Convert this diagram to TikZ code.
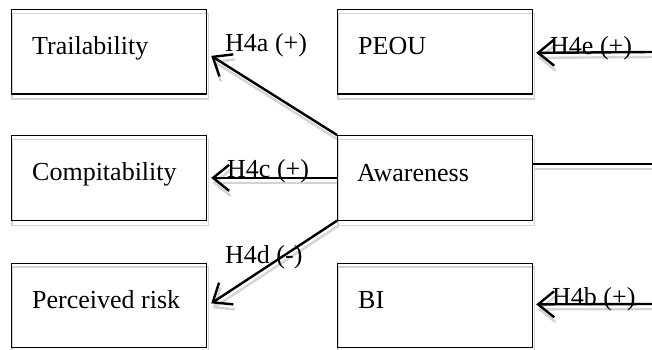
\documentclass[tikz,border=0pt]{standalone}
\usepackage{fontspec}
\setmainfont{Liberation Serif}
\usetikzlibrary{arrows.meta,calc,backgrounds}
\begin{document}
\begin{tikzpicture}[x=1pt,y=-1pt,
  box/.style={draw=black, line width=1.2pt, minimum width=195pt, minimum height=84.5pt,
              inner sep=0pt, anchor=north west},
  boxshade/.style={draw=black!17, line width=1.4pt, transform canvas={shift={(1pt,-4.5pt)}}},
  caption/.style={font=\fontsize{26}{30}\selectfont, inner sep=0pt, anchor=base west},
  hyp/.style={font=\fontsize{26}{30}\selectfont, inner sep=0pt, anchor=base west},
  link/.style={line width=2.4pt, -{Straight Barb[length=16pt,width=26pt]}},
  linkshade/.style={draw=black!17, transform canvas={shift={(1.5pt,-5pt)}}},
  plainlink/.style={line width=2.2pt}]
\useasboundingbox (0,0) rectangle (652,350);

% construct boxes
\node[box] (trail)  at (11,9)      {};
\node[box] (peou)   at (337,9)     {};
\node[box] (compat) at (11,135)    {};
\node[box] (aware)  at (337,135)   {};
\node[box] (risk)   at (11,262.5)  {};
\node[box] (bi)     at (337,262.5) {};

% construct names
\node[caption] (tTrail)  at ($(trail.north west)+(21,45.5)$)  {Trailability};
\node[caption] (tPeou)   at ($(peou.north west)+(21,45.5)$)   {PEOU};
\node[caption] (tCompat) at ($(compat.north west)+(21,45.5)$) {Compitability};
\node[caption] (tAware)  at ($(aware.north west)+(20,46.5)$)  {Awareness};
\node[caption] (tRisk)   at ($(risk.north west)+(21,45.5)$)   {Perceived risk};
\node[caption] (tBi)     at ($(bi.north west)+(21,45.5)$)     {BI};

% hypothesis labels
\node[hyp] (h4a) at (225,52)  {H4a (+)};
\node[hyp] (h4c) at (227,177) {H4c (+)};
\node[hyp] (h4d) at (225,263) {H4d (-)};
\node[hyp] (h4e) at (550,55)  {H4e (+)};
\node[hyp] (h4b) at (552,305) {H4b (+)};

% loose ends at the right margin
\coordinate (eIn) at (652,52);
\coordinate (lIn) at (652,164);
\coordinate (bIn) at (652,304);

% connector end points
\coordinate (aTip) at ($(trail.east)+(4,4)$);
\coordinate (cTip) at ($(compat.east)+(4,0)$);
\coordinate (dTip) at ($(risk.east)+(4,-2)$);
\coordinate (eTip) at ($(peou.east)+(3,1)$);
\coordinate (bTip) at ($(bi.east)+(3,-1)$);
\coordinate (lOut) at ($(aware.north east)+(0,29)$);

% soft shadows
\begin{scope}[on background layer]
  \foreach \b in {trail,peou,compat,aware,risk,bi}
    \draw[boxshade] (\b.north west) rectangle (\b.south east);
  \draw[link,linkshade] (aware.north west) -- (aTip);
  \draw[link,linkshade] (aware.west) -- (cTip);
  \draw[link,linkshade] (aware.south west) -- (dTip);
  \draw[link,linkshade] (eIn) -- (eTip);
  \draw[link,linkshade] (bIn) -- (bTip);
  \draw[plainlink,linkshade] (lOut) -- (lIn);
\end{scope}

% connectors
\draw[link] (aware.north west) -- (aTip);
\draw[link] (aware.west) -- (cTip);
\draw[link] (aware.south west) -- (dTip);
\draw[link] (eIn) -- (eTip);
\draw[link] (bIn) -- (bTip);
\draw[plainlink] (lOut) -- (lIn);
\end{tikzpicture}
\end{document}
